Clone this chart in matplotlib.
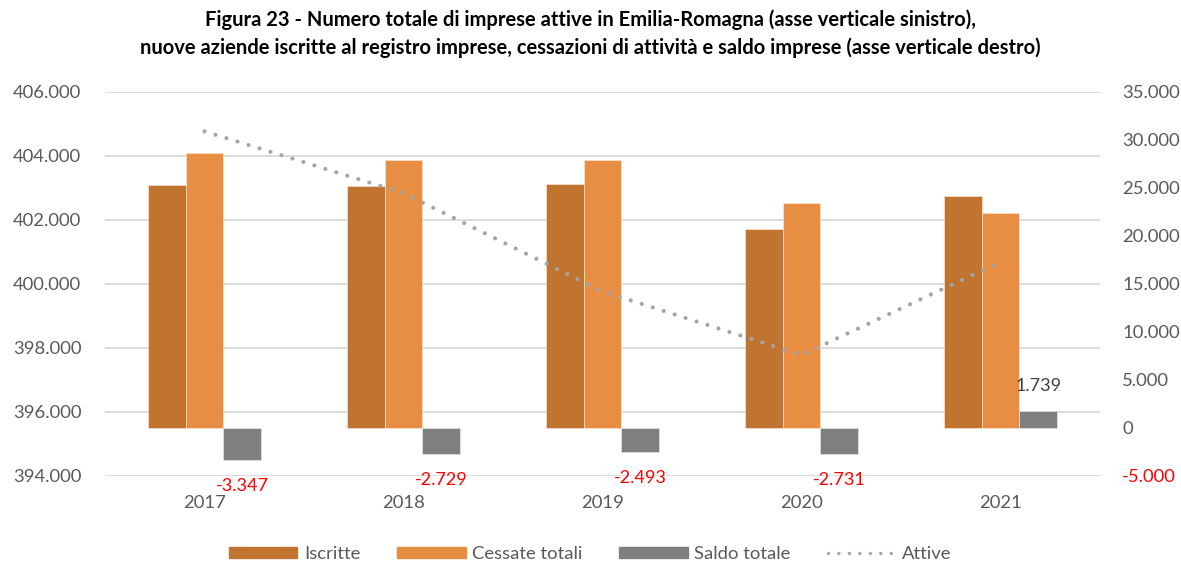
import numpy as np
import matplotlib
matplotlib.use('Agg')
import matplotlib.pyplot as plt
from matplotlib.patches import Patch
from matplotlib.lines import Line2D

plt.rcParams['font.family'] = ['Lato', 'DejaVu Sans']

# data
anni = ['2017', '2018', '2019', '2020', '2021']
iscritte = [25342, 25170, 25420, 20720, 24180]
cessate = [28689, 27899, 27913, 23451, 22441]
saldo = [-3347, -2729, -2493, -2731, 1739]
attive = [404770, 402840, 399770, 397780, 400690]

left_ticks = np.arange(394000, 406001, 2000)
right_ticks = np.arange(-5000, 35001, 5000)

c_iscr = '#C0742F'
c_cess = '#E88E42'
c_saldo = '#7F7F7F'
c_att = '#A5A5A5'
c_txt = '#595959'


def fmt(v):
    return f'{v:,.0f}'.replace(',', '.')


fig = plt.figure(figsize=(11.81, 5.63), dpi=100)
ax = fig.add_axes([105/1181, 1-476/563, 995/1181, 384/563])
ax2 = ax.twinx()

x = np.arange(len(anni))
w = 0.19

# left axis: gridlines + scale for Attive
ax.set_ylim(left_ticks[0], left_ticks[-1])
ax.set_yticks(left_ticks)
ax.set_yticklabels([fmt(v) for v in left_ticks])
ax.grid(axis='y', color='#D9D9D9', lw=1.3)
ax.set_axisbelow(True)

# right axis: bars
ax2.bar(x - w, iscritte, w, color=c_iscr, edgecolor='#F6E3D3', lw=0.5, zorder=2)
ax2.bar(x, cessate, w, color=c_cess, edgecolor='#F6E3D3', lw=0.5, zorder=2)
ax2.bar(x + w, saldo, w, color=c_saldo, edgecolor='#E6E6E6', lw=0.5, zorder=2)
ax2.set_ylim(right_ticks[0], right_ticks[-1])
ax2.set_yticks(right_ticks)
ax2.set_yticklabels([fmt(v) for v in right_ticks])

# Attive line on left scale, drawn above bars
ax2.plot(x, attive, transform=ax.transData, color=c_att, lw=3,
         dashes=[0.01, 2.75], dash_capstyle='round', zorder=5)

# saldo labels
for xi, v in zip(x, saldo):
    if v < 0:
        ax2.annotate(fmt(v), (xi + w, v), xytext=(0, -26), textcoords='offset pixels',
                     ha='center', va='center', color='red', fontsize=13,
                     annotation_clip=False)
    else:
        ax2.annotate(fmt(v), (xi + w, v), xytext=(0, 25), textcoords='offset pixels',
                     ha='center', va='center', color='#404040', fontsize=13,
                     annotation_clip=False)

ax.set_xlim(-0.5, len(anni) - 0.5)
ax.set_xticks(x)
ax.set_xticklabels(anni)

for a in (ax, ax2):
    for s in a.spines.values():
        s.set_visible(False)
    a.tick_params(length=0, labelsize=13.3, labelcolor=c_txt)
ax.tick_params(axis='x', pad=14)
ax.tick_params(axis='y', pad=17)
ax2.tick_params(axis='y', pad=16)
for lab, v in zip(ax2.get_yticklabels(), right_ticks):
    if v < 0:
        lab.set_color('red')

fig.text(0.5, 1-20/563, 'Figura 23 - Numero totale di imprese attive in Emilia-Romagna (asse verticale sinistro),',
         ha='center', va='center', fontsize=14.5, fontweight='bold')
fig.text(0.5, 1-48/563, 'nuove aziende iscritte al registro imprese, cessazioni di attività e saldo imprese (asse verticale destro)',
         ha='center', va='center', fontsize=14.5, fontweight='bold')

handles = [Patch(color=c_iscr), Patch(color=c_cess), Patch(color=c_saldo),
           Line2D([], [], color=c_att, lw=2.5, dashes=[0.01, 3.0], dash_capstyle='round')]
leg = fig.legend(handles, ['Iscritte', 'Cessate totali', 'Saldo totale', 'Attive'],
                 loc='center', bbox_to_anchor=(0.5, 1-554/563), ncol=4, frameon=False,
                 fontsize=13.3, handlelength=3.7, handleheight=0.6, handletextpad=0.35,
                 columnspacing=2.0)
for t in leg.get_texts():
    t.set_color(c_txt)

fig.savefig('out.png', dpi=100)
